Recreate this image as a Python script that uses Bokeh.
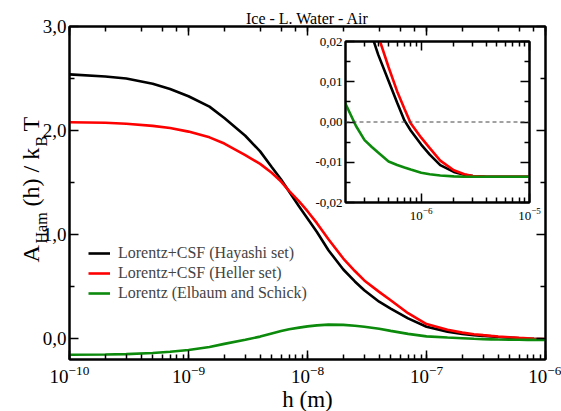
import math
from bokeh.plotting import figure
from bokeh.models import (Range1d, LogAxis, LinearAxis, FixedTicker, LogTicker,
                          CustomJSTickFormatter, Legend, LegendItem, Span, GridBox)
from bokeh.core.properties import value
from bokeh.embed import file_html
from bokeh.resources import INLINE

# separation h (m) and Hamaker function A_Ham(h)/k_B T for each parameter set
h = [1e-10, 2e-10, 3e-10, 5e-10, 7e-10,
     1e-9, 1.5e-9, 2e-9, 3e-9, 4e-9, 5e-9, 6e-9, 7e-9, 8.5e-9,
     1e-8, 1.2e-8, 1.5e-8, 2e-8, 2.5e-8, 3e-8, 4e-8, 5e-8, 7e-8,
     1e-7, 1.5e-7, 2e-7, 2.5e-7, 3e-7, 3.5e-7, 4e-7, 5e-7, 6e-7, 7e-7, 8e-7,
     1e-6, 1.2e-6, 1.5e-6, 2e-6, 2.5e-6, 3e-6, 4e-6, 6e-6, 1e-5]

hayashi = [2.54, 2.52, 2.50, 2.45, 2.40,
           2.33, 2.23, 2.12, 1.95, 1.80, 1.65, 1.53, 1.415, 1.27,
           1.155, 1.025, 0.85, 0.665, 0.55, 0.465, 0.355, 0.29, 0.195,
           0.115, 0.068, 0.045, 0.033, 0.026, 0.0215, 0.0168, 0.0102, 0.0048, 0.0004, -0.0021,
           -0.0056, -0.0081, -0.0107, -0.0124, -0.0131, -0.0134, -0.0136, -0.0136, -0.0136]

heller = [2.08, 2.075, 2.065, 2.045, 2.025,
          1.99, 1.935, 1.875, 1.765, 1.68, 1.595, 1.51, 1.42, 1.32,
          1.225, 1.11, 0.955, 0.77, 0.65, 0.56, 0.45, 0.37, 0.245,
          0.14, 0.085, 0.058, 0.043, 0.034, 0.027, 0.0215, 0.0136, 0.0076, 0.0033, -0.0003,
          -0.0039, -0.0065, -0.0096, -0.0120, -0.0130, -0.0134, -0.0136, -0.0136, -0.0136]

elbaum = [-0.155, -0.152, -0.148, -0.138, -0.125,
          -0.108, -0.08, -0.05, -0.01, 0.02, 0.05, 0.073, 0.09, 0.106,
          0.118, 0.128, 0.135, 0.133, 0.125, 0.115, 0.095, 0.075, 0.046,
          0.022, 0.011, 0.0045, -0.001, -0.0045, -0.0062, -0.0076, -0.0098, -0.0107, -0.0113, -0.0118,
          -0.0126, -0.0130, -0.0133, -0.0135, -0.0136, -0.0136, -0.0136, -0.0136, -0.0136]

series = [
    ("Lorentz+CSF (Hayashi set)", hayashi, "black"),
    ("Lorentz+CSF (Heller set)", heller, "#ff0000"),
    ("Lorentz (Elbaum and Schick)", elbaum, "#0b8a0b"),
]

main_yticks = [0.0, 1.0, 2.0, 3.0]
main_yminor = [0.5, 1.5, 2.5]
inset_yticks = [-0.02, -0.01, 0.0, 0.01, 0.02]
inset_yminor = [-0.015, -0.005, 0.005, 0.015]
inset_xticks = [1e-6, 1e-5]
inset_xminor = [3e-7, 4e-7, 5e-7, 6e-7, 7e-7, 8e-7, 9e-7,
                2e-6, 3e-6, 4e-6, 5e-6, 6e-6, 7e-6, 8e-6, 9e-6]

SERIF = "Liberation Serif"
BLANK = "return ''"
W, H = 561, 411


def style_axis(ax, size, major=9, minor=5, hide_labels=False):
    ax.axis_line_width = 2
    ax.axis_line_color = "black"
    ax.major_tick_in = major
    ax.major_tick_out = 0
    ax.minor_tick_in = minor
    ax.minor_tick_out = 0
    ax.major_tick_line_width = 1.5
    ax.minor_tick_line_width = 1.5
    ax.major_label_text_font = SERIF
    ax.major_label_text_color = "black"
    ax.major_label_text_font_size = size
    if hide_labels:
        ax.formatter = CustomJSTickFormatter(code=BLANK)
        ax.major_label_text_font_size = "1px"
        ax.major_label_standoff = 0


# ---- main plot ----
p = figure(x_axis_type="log", x_range=Range1d(1e-10, 1e-6), y_range=Range1d(-0.2, 3.0),
           frame_width=476, frame_height=333,
           min_border_left=69, min_border_right=16, min_border_top=26, min_border_bottom=52,
           output_backend="svg", toolbar_location=None, frame_align=False)
p.grid.visible = False
p.outline_line_color = "black"
p.outline_line_width = 2

p.yaxis.ticker = FixedTicker(ticks=main_yticks, minor_ticks=main_yminor)
p.yaxis.formatter = CustomJSTickFormatter(code="return tick.toFixed(1).replace('.', ',')")
style_axis(p.xaxis[0], "19px")
style_axis(p.yaxis[0], "19px")
p.xaxis.major_label_standoff = 6
p.yaxis.major_label_standoff = 3

top = LogAxis(ticker=LogTicker())
style_axis(top, "19px", hide_labels=True)
p.add_layout(top, "above")
right = LinearAxis(ticker=FixedTicker(ticks=main_yticks, minor_ticks=main_yminor))
style_axis(right, "19px", hide_labels=True)
p.add_layout(right, "right")

items = []
for name, ys, col in series:
    r = p.line(h, ys, line_color=col, line_width=2.6)
    items.append(LegendItem(label=name, renderers=[r]))

legend = Legend(items=items, location=(19, 56), glyph_width=22, glyph_height=20,
                label_height=20, label_standoff=8, spacing=0, padding=0, margin=0,
                border_line_color=None, background_fill_alpha=0,
                label_text_font=SERIF, label_text_font_size="16px")
p.add_layout(legend)

# ---- inset: long-distance tail around the sign change ----
ins = figure(x_axis_type="log", x_range=Range1d(2e-7, 1e-5), y_range=Range1d(-0.02, 0.02),
             frame_width=184, frame_height=161,
             min_border_left=40, min_border_right=15, min_border_top=12, min_border_bottom=30,
             output_backend="svg", toolbar_location=None, frame_align=False,
             background_fill_color="white", border_fill_alpha=0)
ins.grid.visible = False
ins.outline_line_color = "black"
ins.outline_line_width = 2
ins.xaxis.ticker = FixedTicker(ticks=inset_xticks, minor_ticks=inset_xminor)
ins.yaxis.ticker = FixedTicker(ticks=inset_yticks, minor_ticks=inset_yminor)
ins.yaxis.formatter = CustomJSTickFormatter(code="return tick.toFixed(2).replace('.', ',')")
style_axis(ins.xaxis[0], "13px")
style_axis(ins.yaxis[0], "13px")
ins.xaxis.major_label_standoff = 5
ins.yaxis.major_label_standoff = 3
itop = LogAxis(ticker=FixedTicker(ticks=inset_xticks, minor_ticks=inset_xminor))
style_axis(itop, "13px", hide_labels=True)
ins.add_layout(itop, "above")
iright = LinearAxis(ticker=FixedTicker(ticks=inset_yticks, minor_ticks=inset_yminor))
style_axis(iright, "13px", hide_labels=True)
ins.add_layout(iright, "right")

ins.add_layout(Span(location=0, dimension="width", line_dash="4 3",
                    line_color="#444444", line_width=1))
for name, ys, col in series:
    ins.line(h, ys, line_color=col, line_width=2.6)

ins.margin = (29, 0, 0, 305)

# ---- transparent text layer for title and axis labels (pixel coordinates) ----
txt = figure(width=W, height=H, x_range=Range1d(0, W), y_range=Range1d(0, H),
             min_border=0, x_axis_location=None, y_axis_location=None,
             output_backend="svg", toolbar_location=None, frame_align=False,
             background_fill_alpha=0, border_fill_alpha=0, outline_line_color=None)
txt.grid.visible = False

txt.text(x=[307], y=[H - 18], text=["Ice - L. Water - Air"], text_align="center",
         text_baseline="alphabetic", text_font=value(SERIF), text_font_size="16px",
         text_color="black")
txt.text(x=[307], y=[H - 399], text=["h (m)"], text_align="center",
         text_baseline="alphabetic", text_font=value(SERIF), text_font_size="23px",
         text_color="black")

# y-axis label, rotated, assembled from main text and subscripts
ylab_text = ["A", "Ham", "(h) / k", "B", "T"]
ylab_x = [30, 41, 30, 41, 30]            # baseline position
ylab_y = [H - 262, H - 243, H - 206, H - 146, H - 131]  # start of each piece
ylab_size = ["24px", "16px", "24px", "16px", "24px"]
for t, xx, yy, sz in zip(ylab_text, ylab_x, ylab_y, ylab_size):
    txt.text(x=[xx], y=[yy], text=[t], angle=math.pi / 2, text_align="left",
             text_baseline="alphabetic", text_font=value(SERIF), text_font_size=sz,
             text_color="black")

layout = GridBox(children=[(p, 0, 0), (ins, 0, 0), (txt, 0, 0)])

open("out.html", "w").write(file_html(layout, INLINE))
